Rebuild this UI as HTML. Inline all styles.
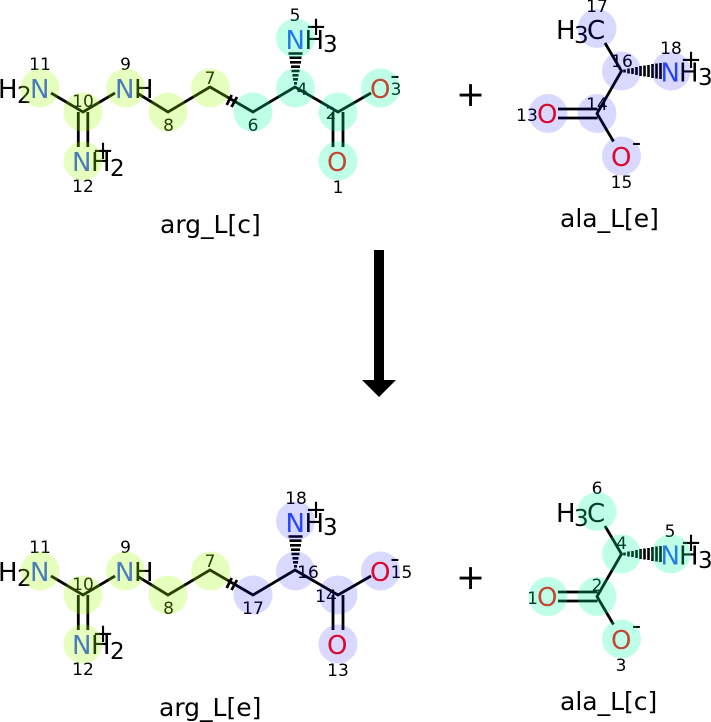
<!DOCTYPE html>
<html>
<head>
<meta charset="utf-8">
<style>
html,body{margin:0;padding:0;background:#fff;width:711px;height:722px;overflow:hidden}
svg{display:block}
text{font-family:"DejaVu Sans","Liberation Sans",sans-serif;fill:#000}
.a{font-size:26px}
.s{font-size:23px}
.n{font-size:17px;text-anchor:middle}
.l{font-size:25px}
.c{font-size:26px;text-anchor:middle}
.b{fill:#3050F8}
.r{fill:#FF0D0D}
.k{fill:none;stroke:#000;stroke-width:2.8}
.h{fill:none;stroke:#000;stroke-width:2.6}
.g{fill:#9cff00;fill-opacity:.25}
.t{fill:#00ffa3;fill-opacity:.25}
.v{fill:#0000ff;fill-opacity:.15}
</style>
</head>
<body>
<svg width="711" height="722" viewBox="0 0 711 722" xmlns="http://www.w3.org/2000/svg">

<!-- Top left: arg_L[c] -->
<g>
<path class="k" d="M51 93L83 112L115 93M137 93L168 112L210 87L253 112L295 87L338 112L371 93M78.3 112V147M87.8 112V147M333 112V147M343 112V147M226.7 105L231.7 95M231.5 107L237 97"/>
<path class="h" d="M288.500 53.500H302.500M289.500 57.700H301.500M290 62.300H301M291 66.700H300M291.500 71H299.500M292.500 75.300H298.500M293 79.300H298M294 83.300H297"/>
<text class="a" x="-2" y="98">H</text><text class="s" x="17" y="103">2</text><text class="a b" x="30" y="98">N</text>
<text class="a b" x="115" y="98">N</text><text class="a" x="134" y="98">H</text>
<text class="a b" x="72" y="171">N</text><text class="a" x="91" y="171">H</text><text class="s" x="110" y="176">2</text><text class="c" x="103" y="159">+</text>
<text class="a b" x="285.500" y="49">N</text><text class="a" x="304.500" y="49">H</text><text class="s" x="323" y="52">3</text><text class="c" x="316" y="35">+</text>
<text class="a r" x="370" y="98">O</text><text class="c" x="395" y="84">-</text>
<text class="a r" x="327" y="171">O</text>
<text class="n" x="40" y="70">11</text><text class="n" x="125.500" y="70">9</text><text class="n" x="83" y="107">10</text><text class="n" x="83" y="192">12</text><text class="n" x="168.500" y="131">8</text><text class="n" x="210" y="84">7</text><text class="n" x="253" y="131">6</text><text class="n" x="302" y="95">4</text><text class="n" x="331" y="119">2</text><text class="n" x="295" y="21">5</text><text class="n" x="396" y="95">3</text><text class="n" x="338" y="193">1</text>
<circle class="g" cx="40" cy="88" r="19.500"/><circle class="g" cx="83" cy="112" r="19.500"/><circle class="g" cx="125.500" cy="88" r="19.500"/><circle class="g" cx="168" cy="112" r="19.500"/><circle class="g" cx="210.500" cy="88" r="19.500"/><circle class="g" cx="83" cy="161" r="19.500"/>
<circle class="t" cx="253" cy="112" r="19.500"/><circle class="t" cx="295.500" cy="88" r="19.500"/><circle class="t" cx="295.500" cy="38" r="19.500"/><circle class="t" cx="338" cy="112" r="19.500"/><circle class="t" cx="380.500" cy="88" r="19.500"/><circle class="t" cx="338" cy="161" r="19.500"/>
<text class="l" x="160" y="233">arg_L[c]</text>
</g>

<!-- Top right: ala_L[e] -->
<g>
<path class="k" d="M605 43L621.500 71L597 113.500L613.500 141.500M558 109H597.500M558 118H597.500"/>
<path class="h" d="M624.500 69.500V72.500M628.500 68.500V73.500M632.500 68V74M636.500 67V75M640.500 66V76M644.500 65.500V76.500M648.500 65V77M652.500 64V78M656.500 63.500V78.500M660.500 63V79"/>
<text class="a" x="556" y="39">H</text><text class="s" x="574" y="43">3</text><text class="a" x="587" y="39">C</text>
<text class="a b" x="660.500" y="81.500">N</text><text class="a" x="679" y="81.500">H</text><text class="s" x="698" y="85">3</text><text class="c" x="691" y="68">+</text>
<text class="a r" x="537" y="123">O</text>
<text class="a r" x="611" y="166">O</text><text class="c" x="636.500" y="151">-</text>
<text class="n" x="597" y="12">17</text><text class="n" x="622" y="67">16</text><text class="n" x="671" y="54">18</text><text class="n" x="597" y="110">14</text><text class="n" x="527" y="121">13</text><text class="n" x="621.500" y="188">15</text>
<circle class="v" cx="597" cy="28.500" r="19.500"/><circle class="v" cx="621.500" cy="71" r="19.500"/><circle class="v" cx="671" cy="71" r="19.500"/><circle class="v" cx="597" cy="113.500" r="19.500"/><circle class="v" cx="548" cy="113.500" r="19.500"/><circle class="v" cx="621.500" cy="156" r="19.500"/>
<text class="l" x="560" y="227">ala_L[e]</text>
</g>

<!-- Plus signs -->
<text x="470.500" y="106" font-size="35" text-anchor="middle">+</text>
<text x="470.500" y="589" font-size="35" text-anchor="middle">+</text>

<!-- Arrow -->
<rect x="374" y="250" width="10" height="131" fill="#000"/>
<polygon points="362,380 396,380 379,397" fill="#000"/>

<!-- Bottom left: arg_L[e] -->
<g transform="translate(0,483)">
<path class="k" d="M51 93L83 112L115 93M137 93L168 112L210 87L253 112L295 87L338 112L371 93M78.3 112V147M87.8 112V147M333 112V147M343 112V147M226.7 105L231.7 95M231.5 107L237 97"/>
<path class="h" d="M288.500 53.500H302.500M289.500 57.700H301.500M290 62.300H301M291 66.700H300M291.500 71H299.500M292.500 75.300H298.500M293 79.300H298M294 83.300H297"/>
<text class="a" x="-2" y="98">H</text><text class="s" x="17" y="103">2</text><text class="a b" x="30" y="98">N</text>
<text class="a b" x="115" y="98">N</text><text class="a" x="134" y="98">H</text>
<text class="a b" x="72" y="171">N</text><text class="a" x="91" y="171">H</text><text class="s" x="110" y="176">2</text><text class="c" x="103" y="159">+</text>
<text class="a b" x="285.500" y="49">N</text><text class="a" x="304.500" y="49">H</text><text class="s" x="323" y="52">3</text><text class="c" x="316" y="35">+</text>
<text class="a r" x="370" y="98">O</text><text class="c" x="395" y="84">-</text>
<text class="a r" x="327" y="171">O</text>
<text class="n" x="40" y="70">11</text><text class="n" x="125.500" y="70">9</text><text class="n" x="83" y="107">10</text><text class="n" x="83" y="192">12</text><text class="n" x="168.500" y="131">8</text><text class="n" x="210" y="84">7</text><text class="n" x="253" y="131">17</text><text class="n" x="308" y="95">16</text><text class="n" x="326" y="119">14</text><text class="n" x="296" y="21">18</text><text class="n" x="401.500" y="95">15</text><text class="n" x="338" y="193">13</text>
<circle class="g" cx="40" cy="88" r="19.500"/><circle class="g" cx="83" cy="112" r="19.500"/><circle class="g" cx="125.500" cy="88" r="19.500"/><circle class="g" cx="168" cy="112" r="19.500"/><circle class="g" cx="210.500" cy="88" r="19.500"/><circle class="g" cx="83" cy="161" r="19.500"/>
<circle class="v" cx="253" cy="112" r="19.500"/><circle class="v" cx="295.500" cy="88" r="19.500"/><circle class="v" cx="295.500" cy="38" r="19.500"/><circle class="v" cx="338" cy="112" r="19.500"/><circle class="v" cx="380.500" cy="88" r="19.500"/><circle class="v" cx="338" cy="161" r="19.500"/>
<text class="l" x="159" y="233">arg_L[e]</text>
</g>

<!-- Bottom right: ala_L[c] -->
<g transform="translate(0,483)">
<path class="k" d="M605 43L621.500 71L597 113.500L613.500 141.500M558 109H597.500M558 118H597.500"/>
<path class="h" d="M624.500 69.500V72.500M628.500 68.500V73.500M632.500 68V74M636.500 67V75M640.500 66V76M644.500 65.500V76.500M648.500 65V77M652.500 64V78M656.500 63.500V78.500M660.500 63V79"/>
<text class="a" x="556" y="39">H</text><text class="s" x="574" y="43">3</text><text class="a" x="587" y="39">C</text>
<text class="a b" x="660.500" y="81.500">N</text><text class="a" x="679" y="81.500">H</text><text class="s" x="698" y="85">3</text><text class="c" x="691" y="68">+</text>
<text class="a r" x="537" y="123">O</text>
<text class="a r" x="611" y="166">O</text><text class="c" x="636.500" y="151">-</text>
<text class="n" x="597" y="11">6</text><text class="n" x="621.500" y="66">4</text><text class="n" x="670" y="54">5</text><text class="n" x="597" y="108">2</text><text class="n" x="532.500" y="121">1</text><text class="n" x="621" y="188">3</text>
<circle class="t" cx="597" cy="28.500" r="19.500"/><circle class="t" cx="621.500" cy="71" r="19.500"/><circle class="t" cx="671" cy="71" r="19.500"/><circle class="t" cx="597" cy="113.500" r="19.500"/><circle class="t" cx="548" cy="113.500" r="19.500"/><circle class="t" cx="621.500" cy="156" r="19.500"/>
<text class="l" x="560" y="227">ala_L[c]</text>
</g>
</svg>
</body>
</html>
